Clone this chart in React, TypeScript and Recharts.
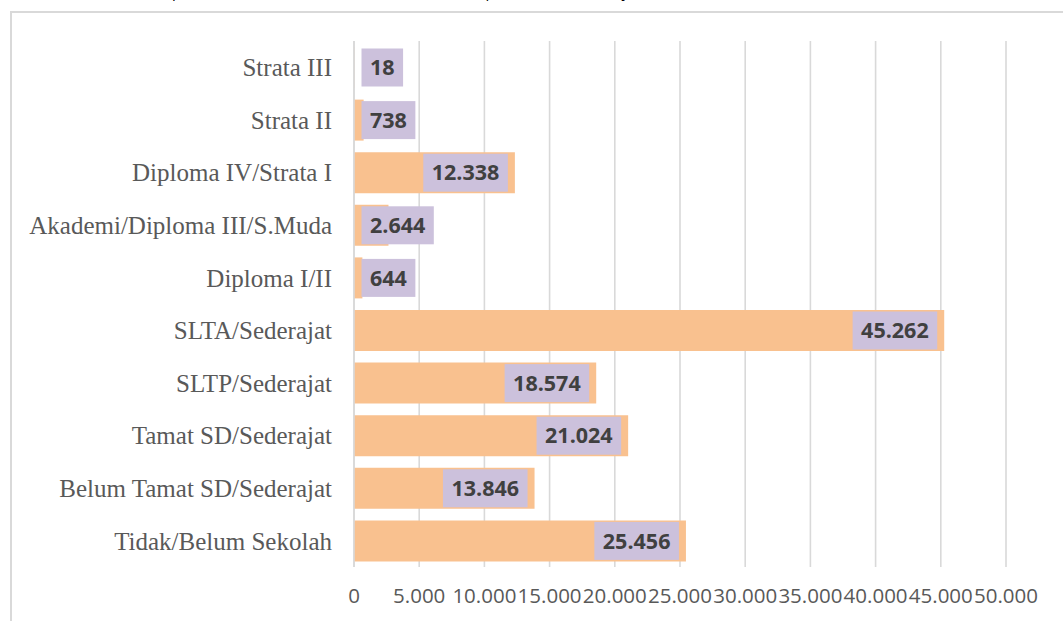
import React from 'react';
import { BarChart, Bar, XAxis, YAxis, CartesianGrid, LabelList } from 'recharts';

const categories = [
  'Strata III',
  'Strata II',
  'Diploma IV/Strata I',
  'Akademi/Diploma III/S.Muda',
  'Diploma I/II',
  'SLTA/Sederajat',
  'SLTP/Sederajat',
  'Tamat SD/Sederajat',
  'Belum Tamat SD/Sederajat',
  'Tidak/Belum Sekolah',
];
const values = [18, 738, 12338, 2644, 644, 45262, 18574, 21024, 13846, 25456];
const xTicks = [0, 5000, 10000, 15000, 20000, 25000, 30000, 35000, 40000, 45000, 50000];
const titleText = 'Komposisi Penduduk Menurut Status Pendidikan pada Akhir Tahun Ajaran';

const data = categories.map((name, i) => ({ name, value: values[i] }));

const fmt = (n: number) => String(n).replace(/\B(?=(\d{3})+(?!\d))/g, '.');

let ctx: CanvasRenderingContext2D | null = null;
const LABEL_FONT = "bold 21.5px 'Open Sans'";
function measure(text: string): number {
  if (!ctx) ctx = document.createElement('canvas').getContext('2d');
  if (!ctx) return text.length * 12;
  ctx.font = LABEL_FONT;
  return ctx.measureText(text).width;
}

const renderLabel = (props: any) => {
  const { x, y, width, height, value } = props;
  const text = fmt(Number(value));
  const tw = measure(text);
  const bw = tw + 17;
  const bh = 38;
  const right = x + width - 7;
  const bx = Math.max(x + 7.5, right - bw);
  const by = y + (height - bh) / 2;
  return (
    <g>
      <rect x={bx} y={by} width={bw} height={bh} fill="#CCC1DC" />
      <text
        x={bx + bw / 2}
        y={by + bh / 2}
        dy="0.36em"
        textAnchor="middle"
        fill="#404040"
        style={{ font: LABEL_FONT }}
      >
        {text}
      </text>
    </g>
  );
};

export default function App() {
  return (
    <div style={{ position: 'absolute', left: 0, top: 0, width: 1063, height: 621, overflow: 'hidden', background: '#fff' }}>
      <div
        style={{
          position: 'absolute',
          left: 140,
          top: -19,
          fontFamily: "'Open Sans'",
          fontSize: 15,
          lineHeight: '20px',
          whiteSpace: 'nowrap',
          color: '#000',
        }}
      >
        {titleText}
      </div>
      <div
        style={{
          position: 'absolute',
          left: 10,
          top: 11,
          width: 1200,
          height: 800,
          border: '2px solid #D9D9D9',
          boxSizing: 'border-box',
        }}
      />
      <div style={{ position: 'absolute', left: 0, top: 0 }}>
        <BarChart
          width={1063}
          height={621}
          data={data}
          layout="vertical"
          margin={{ top: 41, right: 57, bottom: 0, left: 10 }}
          barSize={41}
        >
          <CartesianGrid horizontal={false} stroke="#D9D9D9" strokeWidth={1.6} />
          <XAxis
            type="number"
            domain={[0, 50000]}
            ticks={xTicks}
            interval={0}
            tickFormatter={fmt}
            axisLine={false}
            tickLine={false}
            tickSize={0}
            tickMargin={21}
            height={54}
            tick={{ fill: '#595959', fontSize: 20.5, fontFamily: "'Open Sans'" }}
          />
          <YAxis
            type="category"
            dataKey="name"
            width={344}
            axisLine={{ stroke: '#D9D9D9', strokeWidth: 1.6 }}
            tickLine={false}
            tickSize={0}
            tickMargin={22}
            interval={0}
            tick={{ fill: '#595959', fontSize: 25, fontFamily: "'Liberation Serif'" }}
          />
          <Bar dataKey="value" fill="#F9C18F" isAnimationActive={false}>
            <LabelList dataKey="value" content={renderLabel} />
          </Bar>
        </BarChart>
      </div>
    </div>
  );
}
